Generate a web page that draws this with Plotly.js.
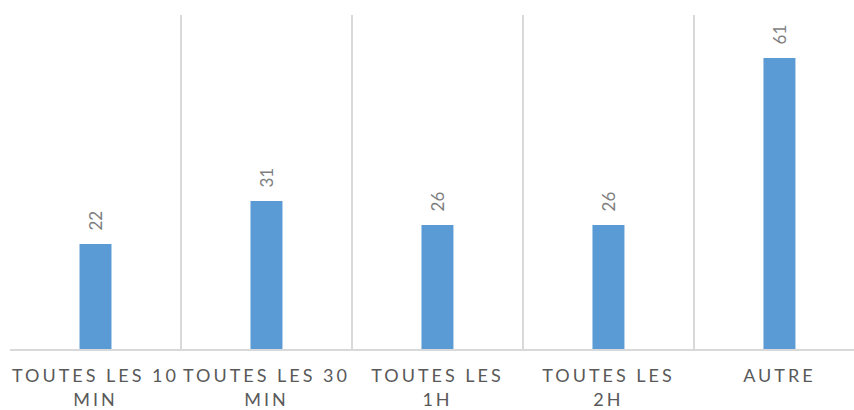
<!DOCTYPE html>
<html>
<head>
<meta charset="utf-8">
<script src="https://cdn.plot.ly/plotly-3.0.1.min.js"></script>
<style>
html,body{margin:0;padding:0;background:#fff;overflow:hidden;}
#chart .xtick text{letter-spacing:3px;}
</style>
</head>
<body>
<div id="chart" style="width:854px;height:410px;"></div>
<script>
const categories = ["TOUTES LES 10<br>MIN", "TOUTES LES 30<br>MIN", "TOUTES LES<br>1H", "TOUTES LES<br>2H", "AUTRE"];
const values = [22, 31, 26, 26, 61];
const labels = values.map(v => String(v));

const trace = {
  type: "bar",
  x: [0, 1, 2, 3, 4],
  y: values,
  marker: {color: "#5b9bd5"},
  hoverinfo: "none"
};

const annotations = values.map((v, i) => ({
  x: i, y: v, xref: "x", yref: "y",
  text: labels[i], textangle: -90, showarrow: false,
  yanchor: "bottom", xanchor: "center", yshift: 12,
  font: {family: "Lato, 'Liberation Sans', sans-serif", size: 17, color: "#7f7f7f"}
}));

const layout = {
  width: 854, height: 410,
  margin: {l: 10, r: 0, t: 15, b: 61},
  paper_bgcolor: "#fff", plot_bgcolor: "#fff",
  bargap: 0.813,
  showlegend: false,
  xaxis: {
    type: "linear",
    range: [-0.5, 4.436],
    tickmode: "array",
    tickvals: [0, 1, 2, 3, 4],
    ticktext: categories,
    tickangle: 0,
    ticks: "",
    showgrid: false,
    showline: true, linecolor: "#d9d9d9", linewidth: 1.5,
    zeroline: false,
    ticklabelstandoff: 10,
    tickfont: {family: "Lato, 'Liberation Sans', sans-serif", size: 18, color: "#595959"},
    minor: {tickmode: "array", tickvals: [-0.5, 0.5, 1.5, 2.5, 3.5], showgrid: true, gridcolor: "#d9d9d9", gridwidth: 1.5, ticks: ""}
  },
  yaxis: {
    range: [0, 70],
    showgrid: false, showticklabels: false, zeroline: false, showline: false, ticks: ""
  },
  annotations: annotations
};

Plotly.newPlot("chart", [trace], layout, {displayModeBar: false, staticPlot: true});
</script>
</body>
</html>
